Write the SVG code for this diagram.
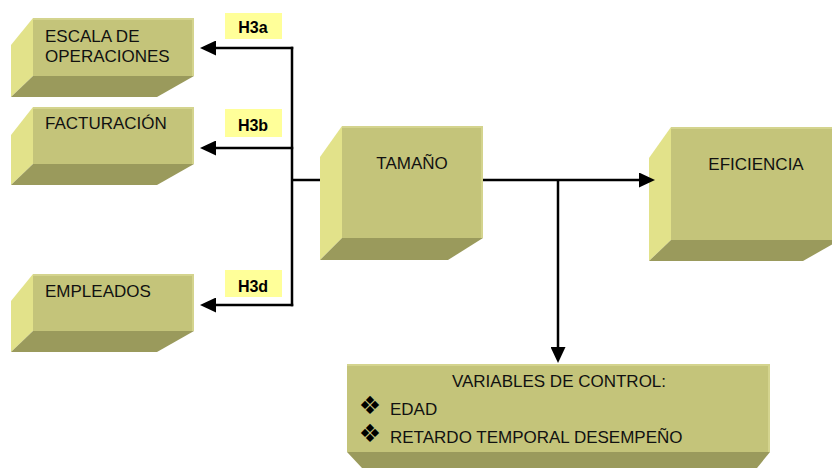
<svg xmlns="http://www.w3.org/2000/svg" width="832" height="468" viewBox="0 0 832 468">
  <style>
    .front { fill: #C4C47A; }
    .left { fill: #E2E28A; }
    .bottom { fill: #9A9A5C; }
    .hl { fill: none; stroke: #D4D48E; stroke-width: 2; }
    .lbl { font-family: "Liberation Sans", Arial, sans-serif; font-size: 17px; fill: #111; }
    .tag { fill: #FFFF99; }
    .tagtxt { font-family: "Liberation Sans", Arial, sans-serif; font-size: 16px; font-weight: bold; fill: #000; text-anchor: middle; }
    .bullet { font-family: "DejaVu Sans", sans-serif; font-size: 25px; fill: #000; text-anchor: middle; }
    .wire { fill: none; stroke: #000; stroke-width: 2.5; }
  </style>
  <defs>
    <marker id="arrow" viewBox="0 0 16 15" refX="8" refY="7.5" markerWidth="16" markerHeight="15" markerUnits="userSpaceOnUse" orient="auto">
      <path d="M0,0 L16,7.5 L0,15 z" fill="#000"/>
    </marker>
  </defs>

  <rect width="832" height="468" fill="#fff"/>

  <!-- size dimension boxes on the left -->
  <g id="escala">
    <polygon class="left" points="11,45 33,18 33,76 11,97"/>
    <rect class="front" x="33" y="18" width="161" height="58"/>
    <polyline class="hl" points="33,19 193,19 193,76"/>
    <polygon class="bottom" points="33,76 194,76 157,97 11,97"/>
    <text class="lbl" x="45" y="42">ESCALA DE</text>
    <text class="lbl" x="45" y="62">OPERACIONES</text>
  </g>

  <g id="facturacion">
    <polygon class="left" points="11,135 33,107 33,164 11,185"/>
    <rect class="front" x="33" y="107" width="161" height="57"/>
    <polyline class="hl" points="33,108 193,108 193,164"/>
    <polygon class="bottom" points="33,164 194,164 157,185 11,185"/>
    <text class="lbl" x="45" y="129">FACTURACIÓN</text>
  </g>

  <g id="empleados">
    <polygon class="left" points="11,301 33,274 33,331 11,352"/>
    <rect class="front" x="33" y="274" width="161" height="57"/>
    <polyline class="hl" points="33,275 193,275 193,331"/>
    <polygon class="bottom" points="33,331 194,331 157,352 11,352"/>
    <text class="lbl" x="45" y="297">EMPLEADOS</text>
  </g>

  <!-- central node -->
  <g id="tamano">
    <polygon class="left" points="320,157 342,126 342,238 320,260"/>
    <rect class="front" x="342" y="126" width="141" height="112"/>
    <polyline class="hl" points="342,127 482,127 482,238"/>
    <polygon class="bottom" points="342,238 483,238 448,260 320,260"/>
    <text class="lbl" x="412" y="169" text-anchor="middle">TAMAÑO</text>
  </g>

  <g id="eficiencia">
    <polygon class="left" points="649,158 671,127 671,240 649,261"/>
    <rect class="front" x="671" y="127" width="169" height="113"/>
    <line class="hl" x1="671" y1="128" x2="840" y2="128"/>
    <polygon class="bottom" points="671,240 840,240 803,261 649,261"/>
    <text class="lbl" x="756" y="170" text-anchor="middle">EFICIENCIA</text>
  </g>

  <g id="control">
    <rect class="front" x="347" y="364" width="423" height="88"/>
    <polyline class="hl" points="347,365 769,365 769,452"/>
    <polygon class="bottom" points="347,452 770,452 757,468 362,468"/>
    <text class="lbl" x="559" y="387" text-anchor="middle">VARIABLES DE CONTROL:</text>
    <text class="bullet" x="370" y="414">❖</text>
    <text class="lbl" x="390" y="415">EDAD</text>
    <text class="bullet" x="370" y="442">❖</text>
    <text class="lbl" x="390" y="443">RETARDO TEMPORAL DESEMPEÑO</text>
  </g>

  <!-- hypothesis tags -->
  <g id="tag-h3a">
    <rect class="tag" x="225" y="13" width="57" height="26"/>
    <text class="tagtxt" x="253" y="33">H3a</text>
  </g>
  <g id="tag-h3b">
    <rect class="tag" x="225" y="109" width="57" height="28"/>
    <text class="tagtxt" x="253" y="131">H3b</text>
  </g>
  <g id="tag-h3d">
    <rect class="tag" x="225" y="270" width="57" height="27"/>
    <text class="tagtxt" x="253" y="292">H3d</text>
  </g>

  <!-- connectors -->
  <g id="connectors">
    <line class="wire" x1="292" y1="46.75" x2="292" y2="306.25"/>
    <line class="wire" x1="293.25" y1="48" x2="208" y2="48" marker-end="url(#arrow)"/>
    <line class="wire" x1="293.25" y1="148" x2="208" y2="148" marker-end="url(#arrow)"/>
    <line class="wire" x1="293.25" y1="305" x2="208" y2="305" marker-end="url(#arrow)"/>
    <line class="wire" x1="292" y1="180" x2="320" y2="180"/>
    <line class="wire" x1="483" y1="180" x2="647" y2="180" marker-end="url(#arrow)"/>
    <line class="wire" x1="558" y1="180" x2="558" y2="355" marker-end="url(#arrow)"/>
  </g>
</svg>
